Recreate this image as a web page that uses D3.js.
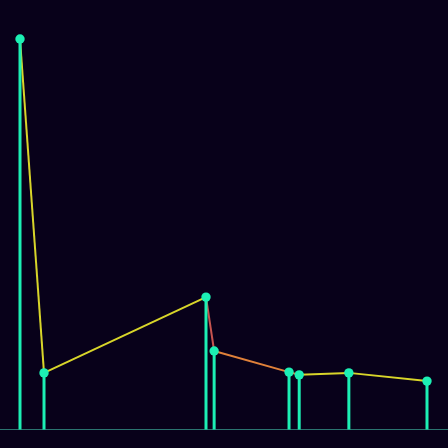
<!DOCTYPE html>
<html lang="en">
<head>
<meta charset="UTF-8">
<title>Stem chart</title>
<script src="https://d3js.org/d3.v7.min.js"></script>
<style>
    body {
        margin: 0;
        padding: 0;
        background: #08011a;
    }
    svg {
        display: block;
    }
</style>
</head>
<body>
<svg></svg>
<script>
    // positions along the x axis
    const positions = [0, 5.9, 45.7, 47.7, 66.1, 68.6, 80.8, 100];
    // stem heights
    const values = [100, 14.5, 33.9, 20.1, 14.7, 14.0, 14.5, 12.4];
    // colour for each connecting segment
    const segmentColors = ["#d8d52a", "#d8d52a", "#c7544f", "#e0813a", "#e0813a", "#d8d52a", "#d8d52a"];

    const W = 448, H = 448;
    const svg = d3.select("svg")
        .attr("width", W)
        .attr("height", H);

    svg.append("rect")
        .attr("width", W)
        .attr("height", H)
        .attr("fill", "#08011a");

    const x = d3.scaleLinear().domain([0, 100]).range([20, 427]);
    const y = d3.scaleLinear().domain([0, 100]).range([429.5, 39]);

    const pts = positions.map((p, i) => ({ p, v: values[i] }));

    // baseline
    svg.append("line")
        .attr("x1", 0)
        .attr("x2", W)
        .attr("y1", y(0))
        .attr("y2", y(0))
        .attr("stroke", "#2b7470")
        .attr("stroke-width", 1);

    // segments between tops
    const segs = d3.pairs(pts);
    svg.selectAll(".seg")
        .data(segs)
        .join("line")
        .attr("class", "seg")
        .attr("x1", d => x(d[0].p))
        .attr("y1", d => y(d[0].v))
        .attr("x2", d => x(d[1].p))
        .attr("y2", d => y(d[1].v))
        .attr("stroke", (d, i) => segmentColors[i])
        .attr("stroke-width", 2);

    // stems
    svg.selectAll(".stem")
        .data(pts)
        .join("line")
        .attr("class", "stem")
        .attr("x1", d => x(d.p))
        .attr("x2", d => x(d.p))
        .attr("y1", y(0))
        .attr("y2", d => y(d.v))
        .attr("stroke", "#1cf0b4")
        .attr("stroke-width", 3);

    // dots
    svg.selectAll(".dot")
        .data(pts)
        .join("circle")
        .attr("class", "dot")
        .attr("cx", d => x(d.p))
        .attr("cy", d => y(d.v))
        .attr("r", 4.7)
        .attr("fill", "#1cf0b4");
</script>
</body>
</html>
